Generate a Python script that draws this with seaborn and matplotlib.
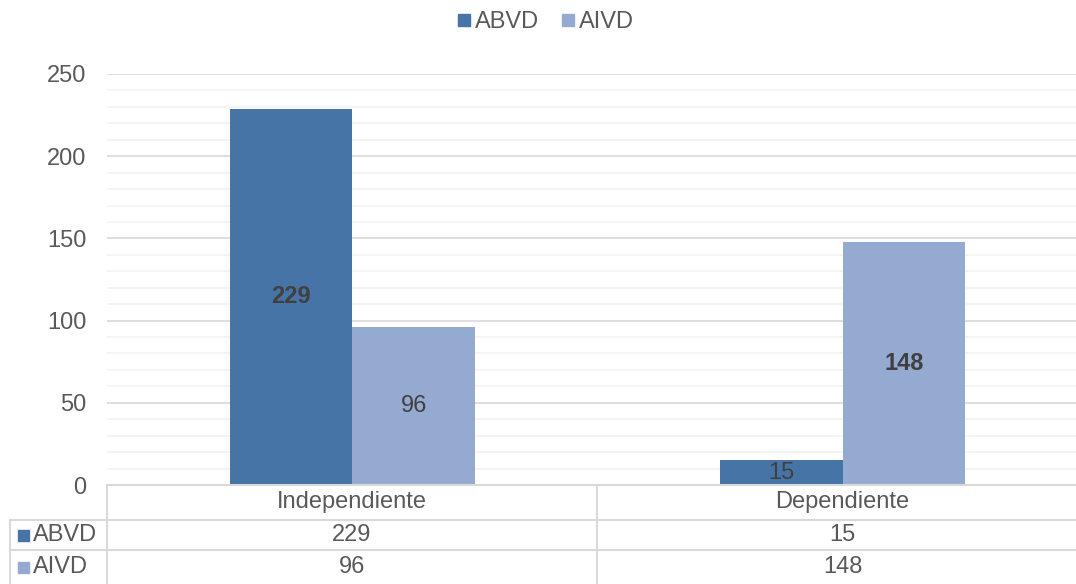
import pandas as pd
import matplotlib
matplotlib.use("Agg")
import matplotlib.pyplot as plt
import seaborn as sns
from matplotlib.lines import Line2D
from matplotlib.patches import Rectangle

# Datos del gráfico
categorias = ["Independiente", "Dependiente"]
series = ["ABVD", "AIVD"]
abvd = [229, 15]
aivd = [96, 148]
colores = ["#4674A7", "#95AAD1"]

df = pd.DataFrame({
    "categoria": categorias * 2,
    "serie": ["ABVD"] * len(categorias) + ["AIVD"] * len(categorias),
    "valor": abvd + aivd,
})

W, H = 1076, 584
texto = "#595959"
linea = "#D9D9D9"
fs = 17

sns.set_theme(style="white")
plt.rcParams["font.family"] = ["Liberation Sans", "DejaVu Sans"]

fig = plt.figure(figsize=(W / 100, H / 100), dpi=100)

def fx(x):
    return x / W

def fy(y):
    return 1 - y / H

# Área del gráfico
ax = fig.add_axes([fx(107), fy(485), fx(1088) - fx(107), fy(74) - fy(485)])
sns.barplot(data=df, x="categoria", y="valor", hue="serie", order=categorias,
            hue_order=series, palette=colores, width=0.5, saturation=1,
            linewidth=0, ax=ax, legend=False)
ax.set_xlim(-0.5, 1.5)
ax.set_ylim(0, 250)
ax.set_yticks(range(0, 251, 50))
ax.set_yticks(range(0, 251, 10), minor=True)
ax.yaxis.grid(True, which="minor", color="#F2F2F2", linewidth=1.2)
ax.yaxis.grid(True, which="major", color=linea, linewidth=1.2)
ax.set_axisbelow(True)
ax.tick_params(axis="y", length=0, pad=15, labelsize=fs, labelcolor=texto)
ax.tick_params(axis="y", which="minor", length=0)
ax.set_xticks([])
ax.set_xlabel("")
ax.set_ylabel("")
for s in ax.spines.values():
    s.set_visible(False)

# Etiquetas de datos
for cont, vals in zip(ax.containers, [abvd, aivd]):
    for barra, v in zip(cont, vals):
        negrita = v > 100
        ax.text(barra.get_x() + barra.get_width() / 2, v / 2, str(v),
                ha="center", va="center", fontsize=fs, color="#404040",
                fontweight="bold" if negrita else "normal")

# Tabla de datos debajo del gráfico
filas_y = [485, 520, 550, 584]
cols_x = [107, 597, 1088]

def hline(y, x0, x1):
    fig.add_artist(Line2D([fx(x0), fx(x1)], [fy(y), fy(y)], color=linea, lw=1.5))

def vline(x, y0, y1):
    fig.add_artist(Line2D([fx(x), fx(x)], [fy(y0), fy(y1)], color=linea, lw=1.5))

hline(485, 107, 1088)
hline(520, 10, 1088)
hline(550, 10, 1088)
vline(10, 520, 584)
vline(107, 485, 584)
vline(597, 485, 584)

centros = [(cols_x[i] + cols_x[i + 1]) / 2 for i in range(len(categorias))]
for cx, cat in zip(centros, categorias):
    fig.text(fx(cx), fy(502), cat, ha="center", va="center", fontsize=fs, color=texto)

for i, (nombre, vals, col) in enumerate(zip(series, [abvd, aivd], colores)):
    yc = (filas_y[i + 1] + filas_y[i + 2]) / 2
    fig.add_artist(Rectangle((fx(18), fy(yc + 5.5)), 11 / W, 11 / H, color=col,
                             transform=fig.transFigure))
    fig.text(fx(33), fy(yc), nombre, ha="left", va="center", fontsize=fs, color=texto)
    for cx, v in zip(centros, vals):
        fig.text(fx(cx), fy(yc), str(v), ha="center", va="center", fontsize=fs, color=texto)

# Leyenda superior
handles = [Line2D([], [], marker="s", linestyle="", markersize=9, color=c) for c in colores]
fig.legend(handles, series, loc="center", bbox_to_anchor=(fx(545), fy(22)), ncol=2,
           frameon=False, fontsize=fs, labelcolor=texto, handletextpad=0.1,
           columnspacing=0.9, handlelength=0.7)

fig.savefig("out.png", dpi=100)
